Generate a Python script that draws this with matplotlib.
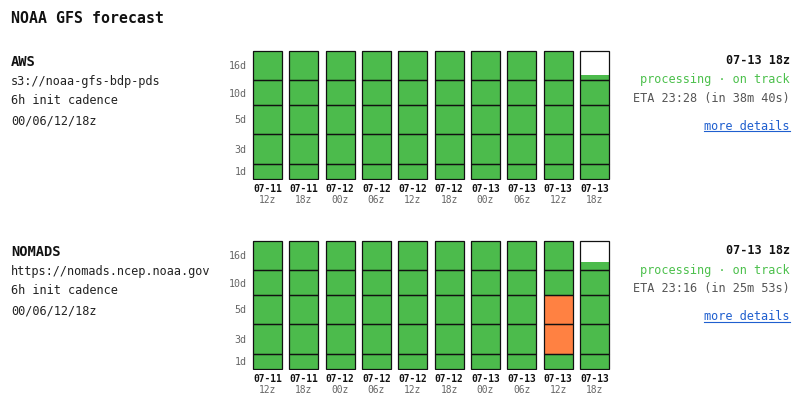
import matplotlib
matplotlib.use('Agg')
from matplotlib import pyplot as plt
from matplotlib.lines import Line2D

plt.rcParams['font.family'] = ['DejaVu Sans Mono']

#%% data
run_dates = ['07-11', '07-11', '07-12', '07-12', '07-12', '07-12', '07-13', '07-13', '07-13', '07-13']
run_hours = ['12z', '18z', '00z', '06z', '12z', '18z', '00z', '06z', '12z', '18z']
leads = ['1d', '3d', '5d', '10d', '16d']
lead_band = [16, 30, 29, 25, 30]   # band height of each lead step on the chart

# lead steps done per run (fraction on the last one = partial 16d band)
aws_progress = [5, 5, 5, 5, 5, 5, 5, 5, 5, 4.18]
nomads_progress = [5, 5, 5, 5, 5, 5, 5, 5, 5, 4.28]
aws_late = {}
nomads_late = {8: ['3d', '5d']}

sources = ['AWS', 'NOMADS']
urls = ['s3://noaa-gfs-bdp-pds', 'https://nomads.ncep.noaa.gov']
cadence = ['6h init cadence', '6h init cadence']
cycles = ['00/06/12/18z', '00/06/12/18z']
latest = ['07-13 18z', '07-13 18z']
status = ['processing · on track', 'processing · on track']
eta = ['ETA 23:28 (in 38m 40s)', 'ETA 23:16 (in 25m 53s)']

GREEN = '#4cbb4c'
ORANGE = '#ff8142'
W, H = 803, 411

fig = plt.figure(figsize=(W / 100, H / 100), dpi=100)


def px(x, y):
    return x / W, 1 - y / H


fig.text(*px(11, 23), 'NOAA GFS forecast', fontsize=10.7, fontweight='bold', color='#111')


#%%
def panel(top, name, url, cad, cyc, last, stat, eta_txt, progress, late):
    ax = fig.add_axes([249.3 / W, 1 - (top + 130) / H, 363.3 / W, 130 / H])
    x = list(range(len(run_dates)))
    for i in x:
        bottom = 0
        for j, lead in enumerate(leads):
            h = lead_band[j]
            done = min(max(progress[i] - j, 0), 1)
            color = ORANGE if lead in late.get(i, []) else GREEN
            if done > 0:
                ax.bar(i, h * done, 0.8, bottom=bottom, color=color, linewidth=0, zorder=1)
            ax.bar(i, h, 0.8, bottom=bottom, fill=False, edgecolor='#111', linewidth=0.9, zorder=2)
            bottom += h
    ax.set_xlim(-0.5, len(run_dates) - 0.5)
    ax.set_ylim(-0.6, sum(lead_band) + 0.6)
    centers = [sum(lead_band[:j]) + lead_band[j] / 2 for j in range(len(leads))]
    ax.set_yticks(centers, leads, fontsize=7.2, color='#666')
    ax.tick_params(axis='y', length=0, pad=2)
    ax.set_xticks([])
    for s in ax.spines.values():
        s.set_visible(False)
    ax.patch.set_alpha(0)

    for i in x:
        cx = (249.3 + (i + 0.5) * 36.33)
        fig.text(*px(cx, top + 142), run_dates[i], fontsize=6.9, fontweight='bold',
                 ha='center', color='#111')
        fig.text(*px(cx, top + 152.5), run_hours[i], fontsize=6.9, ha='center', color='#666')

    fig.text(*px(11, top + 16), name, fontsize=9.9, fontweight='bold', color='#111')
    fig.text(*px(11, top + 34.5), url, fontsize=8.6, color='#222')
    fig.text(*px(11, top + 54.5), cad, fontsize=8.6, color='#222')
    fig.text(*px(11, top + 74.5), cyc, fontsize=8.6, color='#222')

    fig.text(*px(790, top + 14), last, fontsize=8.5, fontweight='bold', ha='right', color='#111')
    fig.text(*px(790, top + 33.5), stat, fontsize=8.6, ha='right', color='#4cc04c')
    fig.text(*px(790, top + 52.3), eta_txt, fontsize=8.6, ha='right', color='#555')
    link = fig.text(*px(790, top + 80), 'more details', fontsize=8.6, ha='right', color='#1f5fcf')
    return link


links = [
    panel(50, sources[0], urls[0], cadence[0], cycles[0], latest[0], status[0], eta[0], aws_progress, aws_late),
    panel(240, sources[1], urls[1], cadence[1], cycles[1], latest[1], status[1], eta[1], nomads_progress, nomads_late),
]

# underline the links
fig.canvas.draw()
for t, top in zip(links, [50, 240]):
    bb = t.get_window_extent()
    y = 1 - (top + 81.5) / H
    fig.add_artist(Line2D([bb.x0 / W, bb.x1 / W], [y, y], color='#1f5fcf', linewidth=0.8))

fig.savefig('out.png', dpi=100, facecolor='white')
